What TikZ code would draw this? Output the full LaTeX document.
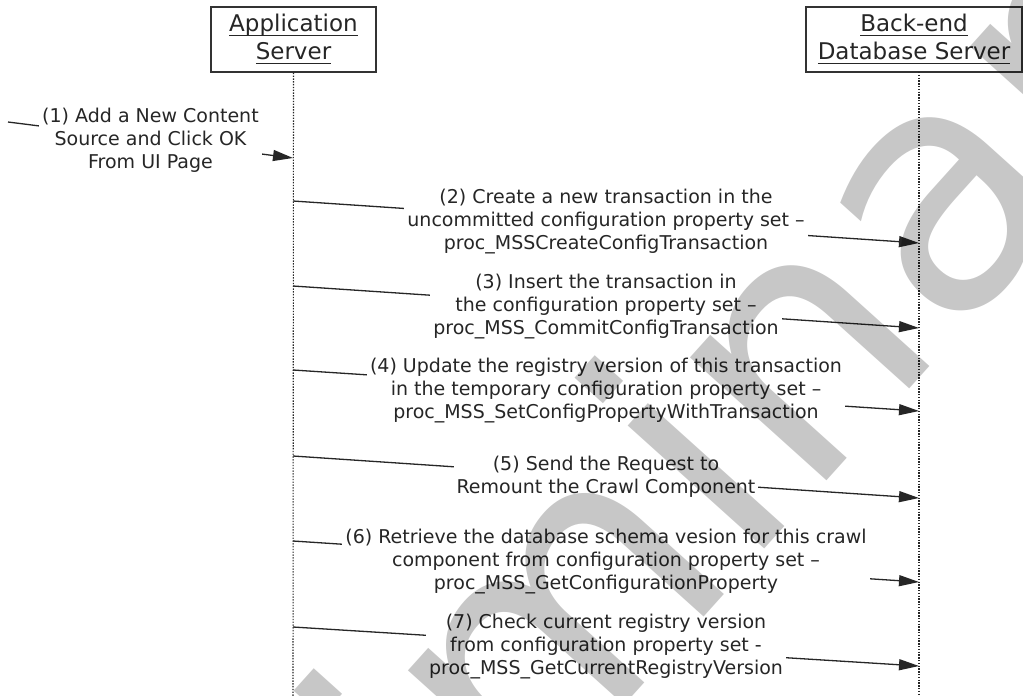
\documentclass[tikz,border=0pt]{standalone}
\usepackage{fontspec}
\setmainfont{DejaVu Sans}
\usetikzlibrary{arrows.meta}
\newcommand\myul[1]{\setbox0\hbox{#1}\rlap{\rule[-4.5pt]{\wd0}{1.6pt}}\box0}
\begin{document}
\begin{tikzpicture}[x=1pt,y=-1pt,
  lifebox/.style={draw=black!80, line width=1.5pt, minimum height=65pt, inner sep=0pt, align=center, font=\fontsize{23}{28}\selectfont, text=black!85},
  lifeline/.style={line width=1.1pt, dash pattern=on 1.4pt off 1.4pt, black!85},
  msg/.style={line width=1.3pt, black!85, -{Triangle[length=20pt,width=11pt]}},
  lbl/.style={fill=white, align=center, inner xsep=3pt, inner ysep=1pt, font=\fontsize{19}{23}\selectfont, text=black!85},
  wmark/.style={anchor=base west, rotate=48, inner sep=0pt, font=\fontsize{336}{336}\selectfont, text=black, text opacity=0.22}
]
\useasboundingbox (0,0) rectangle (1023,696);
\fill[white] (0,0) rectangle (1023,696);

% lifeline heads
\node[lifebox, minimum width=165pt] (app) at (293.5,39.5) {\myul{Application}\\\myul{Server}};
\node[lifebox, minimum width=216pt] (db) at (914,39.5) {\myul{Back-end}\\\myul{Database Server}};
\coordinate (appbot) at (293,696);
\coordinate (dbtop) at (919,72);
\coordinate (dbbot) at (919,696);
\draw[lifeline] (app.south) -- (appbot);
\draw[lifeline] (dbtop) -- (dbbot);

% messages
\coordinate (m1s) at (8,122);   \coordinate (m1e) at (293,158);
\coordinate (m2s) at (293,201); \coordinate (m2e) at (919,243);
\coordinate (m3s) at (293,286); \coordinate (m3e) at (919,328);
\coordinate (m4s) at (293,370); \coordinate (m4e) at (919,411);
\coordinate (m5s) at (293,456); \coordinate (m5e) at (919,498);
\coordinate (m6s) at (293,541); \coordinate (m6e) at (919,582);
\coordinate (m7s) at (293,627); \coordinate (m7e) at (919,666);

\draw[msg] (m1s) -- node[lbl] (l1) {(1) Add a New Content\\Source and Click OK\\From UI Page} (m1e);
\draw[msg] (m2s) -- node[lbl] (l2) {(2) Create a new transaction in the\\uncommitted configuration property set --\\proc\_MSSCreateConfigTransaction} (m2e);
\draw[msg] (m3s) -- node[lbl] (l3) {(3) Insert the transaction in\\the configuration property set --\\proc\_MSS\_CommitConfigTransaction} (m3e);
\draw[msg] (m4s) -- node[lbl] (l4) {(4) Update the registry version of this transaction\\in the temporary configuration property set --\\proc\_MSS\_SetConfigPropertyWithTransaction} (m4e);
\draw[msg] (m5s) -- node[lbl] (l5) {(5) Send the Request to\\Remount the Crawl Component} (m5e);
\draw[msg] (m6s) -- node[lbl] (l6) {(6) Retrieve the database schema vesion for this crawl\\component from configuration property set --\\proc\_MSS\_GetConfigurationProperty} (m6e);
\draw[msg] (m7s) -- node[lbl] (l7) {(7) Check current registry version\\from configuration property set -\\proc\_MSS\_GetCurrentRegistryVersion} (m7e);

% watermark
\node[wmark] (wm) at (42,1352) {Preliminary};
\end{tikzpicture}
\end{document}
